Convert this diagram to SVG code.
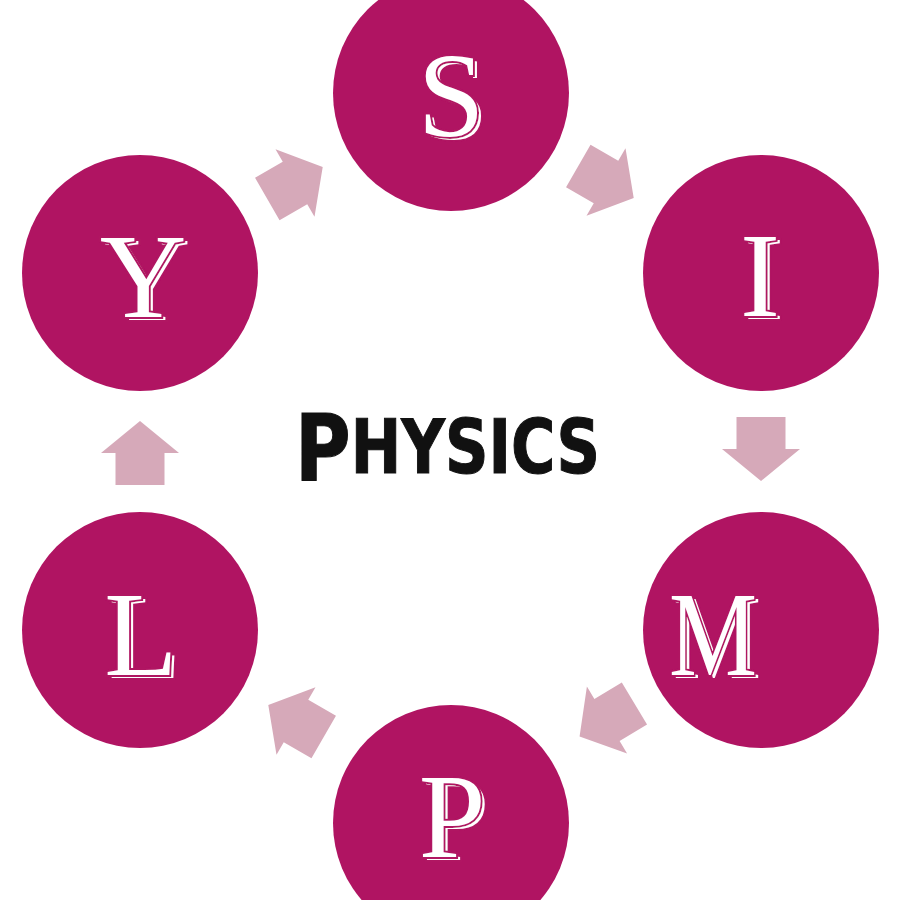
<svg xmlns="http://www.w3.org/2000/svg" width="900" height="900" viewBox="0 0 900 900">
<style>
.node{fill:#b01462}
.arrow{fill:#d6a9b9}
.lt{font-family:"Liberation Serif","Times New Roman",serif;font-size:120px;text-anchor:middle;fill:#ffffff;stroke:#b01462;stroke-width:4;paint-order:stroke;filter:url(#eng)}
.title{font-family:"DejaVu Sans Condensed","DejaVu Sans",sans-serif;font-weight:bold;fill:#111111;stroke:#111111;stroke-width:1}
</style>
<defs>
<path id="arr" d="M -32,-24.5 L 0,-24.5 L 0,-39 L 32,0 L 0,39 L 0,24.5 L -32,24.5 Z"/>
<filter id="eng" x="-20%" y="-20%" width="140%" height="140%">
<feOffset in="SourceGraphic" dx="4" dy="3" result="off"/>
<feMerge><feMergeNode in="off"/><feMergeNode in="SourceGraphic"/></feMerge>
</filter>
</defs>
<rect width="900" height="900" fill="#ffffff"/>
<g id="connectors" class="arrow">
<use href="#arr" transform="translate(295,183) rotate(-30)"/>
<use href="#arr" transform="translate(606,182) rotate(30)"/>
<use href="#arr" transform="translate(761,449) rotate(90)"/>
<use href="#arr" transform="translate(607,720) rotate(149)"/>
<use href="#arr" transform="translate(296,721) rotate(210)"/>
<use href="#arr" transform="translate(140,453) rotate(-90)"/>
</g>
<g id="node-S">
<circle class="node" cx="451" cy="93" r="118"/>
<text class="lt" x="451" y="136">S</text>
</g>
<g id="node-I">
<circle class="node" cx="761" cy="273" r="118"/>
<text class="lt" x="760" y="316">I</text>
</g>
<g id="node-M">
<circle class="node" cx="761" cy="630" r="118"/>
<text class="lt" x="713" y="675" text-anchor="start" textLength="88" lengthAdjust="spacingAndGlyphs">M</text>
</g>
<g id="node-P">
<circle class="node" cx="451" cy="823" r="118"/>
<text class="lt" x="452" y="857">P</text>
</g>
<g id="node-L">
<circle class="node" cx="140" cy="630" r="118"/>
<text class="lt" x="141" y="675">L</text>
</g>
<g id="node-Y">
<circle class="node" cx="140" cy="273" r="118"/>
<text class="lt" x="143" y="317">Y</text>
</g>
<g id="title">
<text class="title" x="295" y="480" textLength="305" lengthAdjust="spacingAndGlyphs"><tspan font-size="93">P</tspan><tspan font-size="74" dy="-7">HYSICS</tspan></text>
</g>
</svg>
